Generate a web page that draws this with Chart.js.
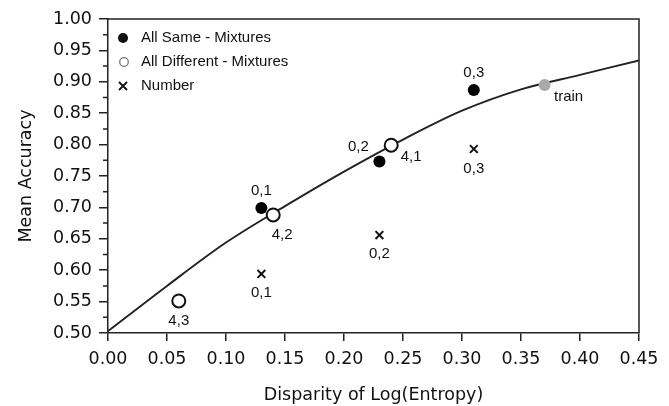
<!DOCTYPE html>
<html lang="en">
<head>
    <meta charset="UTF-8">
    <title>Mean Accuracy vs Disparity of Log(Entropy)</title>
    <script src="https://cdn.jsdelivr.net/npm/chart.js"></script>
    <style>
        html, body { margin: 0; padding: 0; background: #fff; }
        #wrap { width: 669px; height: 406px; position: relative; }
    </style>
</head>
<body>
    <div id="wrap"><canvas id="chart"></canvas></div>

    <script>
        // fitted curve
        const curveX = [0.00, 0.05, 0.10, 0.15, 0.20, 0.25, 0.30, 0.35, 0.40, 0.45];
        const curveY = [0.503, 0.575, 0.644, 0.702, 0.757, 0.808, 0.854, 0.888, 0.911, 0.934];

        // All Same - Mixtures
        const sameX = [0.13, 0.23, 0.31];
        const sameY = [0.699, 0.773, 0.887];
        const sameLabels = ['0,1', '0,2', '0,3'];

        // All Different - Mixtures
        const diffX = [0.06, 0.14, 0.24];
        const diffY = [0.551, 0.688, 0.799];
        const diffLabels = ['4,3', '4,2', '4,1'];

        // Number
        const numX = [0.13, 0.23, 0.31];
        const numY = [0.594, 0.656, 0.793];
        const numLabels = ['0,1', '0,2', '0,3'];

        // training point
        const trainX = [0.37];
        const trainY = [0.895];
        const trainLabels = ['train'];

        const xTicks = [0, 0.05, 0.10, 0.15, 0.20, 0.25, 0.30, 0.35, 0.40, 0.45];
        const yTicks = [0.50, 0.55, 0.60, 0.65, 0.70, 0.75, 0.80, 0.85, 0.90, 0.95, 1.00];

        const pts = (xs, ys) => xs.map((x, i) => ({ x: x, y: ys[i] }));

        const axisFont = { family: 'DejaVu Sans', size: 17.5 };
        const labelFont = '15px "Liberation Sans", Arial, sans-serif';

        // label offsets (px) from each marker, per dataset
        const labelOffsets = {
            same: [[0, -17], [-21, -15], [0, -17]],
            diff: [[0, 20], [9, 20], [20, 12]],
            num: [[0, 19], [0, 19], [0, 20]],
            train: [[24, 12]]
        };

        const decorPlugin = {
            id: 'decor',
            afterDraw(chart) {
                const ctx = chart.ctx;
                const a = chart.chartArea;
                const yScale = chart.scales.y;
                ctx.save();

                // box on top and right
                ctx.strokeStyle = '#222';
                ctx.lineWidth = 1.5;
                ctx.beginPath();
                ctx.moveTo(a.left, a.top);
                ctx.lineTo(a.right, a.top);
                ctx.lineTo(a.right, a.bottom);
                ctx.stroke();

                // minor ticks on y axis
                ctx.beginPath();
                for (let i = 0; i < yTicks.length - 1; i++) {
                    const py = yScale.getPixelForValue((yTicks[i] + yTicks[i + 1]) / 2);
                    ctx.moveTo(a.left - 5, py);
                    ctx.lineTo(a.left, py);
                }
                ctx.stroke();

                // point labels
                ctx.font = labelFont;
                ctx.fillStyle = '#111';
                ctx.textAlign = 'center';
                ctx.textBaseline = 'middle';
                chart.data.datasets.forEach((ds, di) => {
                    if (!ds.pointLabels) return;
                    const meta = chart.getDatasetMeta(di);
                    meta.data.forEach((el, i) => {
                        const off = labelOffsets[ds.key][i];
                        ctx.fillText(ds.pointLabels[i], el.x + off[0], el.y + off[1]);
                    });
                });

                // legend
                const lx = a.left + 15;
                const ly = a.top + 19;
                const gap = 24;
                ctx.textAlign = 'left';
                ctx.fillStyle = '#111';
                ctx.beginPath();
                ctx.arc(lx, ly, 5, 0, Math.PI * 2);
                ctx.fill();
                ctx.strokeStyle = '#777';
                ctx.lineWidth = 1.3;
                ctx.beginPath();
                ctx.arc(lx + 1, ly + gap, 4.3, 0, Math.PI * 2);
                ctx.stroke();
                ctx.strokeStyle = '#111';
                ctx.lineWidth = 1.8;
                ctx.beginPath();
                ctx.moveTo(lx - 4, ly + 2 * gap - 4);
                ctx.lineTo(lx + 4, ly + 2 * gap + 4);
                ctx.moveTo(lx + 4, ly + 2 * gap - 4);
                ctx.lineTo(lx - 4, ly + 2 * gap + 4);
                ctx.stroke();
                ctx.fillText('All Same - Mixtures', lx + 18, ly);
                ctx.fillText('All Different - Mixtures', lx + 18, ly + gap);
                ctx.fillText('Number', lx + 18, ly + 2 * gap);

                ctx.restore();
            }
        };

        new Chart(document.getElementById('chart'), {
            type: 'scatter',
            data: {
                datasets: [
                    {
                        key: 'curve',
                        data: pts(curveX, curveY),
                        showLine: true,
                        borderColor: '#222',
                        borderWidth: 1.9,
                        pointRadius: 0,
                        cubicInterpolationMode: 'monotone',
                        order: 5
                    },
                    {
                        key: 'same',
                        data: pts(sameX, sameY),
                        pointLabels: sameLabels,
                        pointStyle: 'circle',
                        pointRadius: 6,
                        backgroundColor: '#000',
                        borderColor: '#000',
                        borderWidth: 0,
                        order: 2
                    },
                    {
                        key: 'diff',
                        data: pts(diffX, diffY),
                        pointLabels: diffLabels,
                        pointStyle: 'circle',
                        pointRadius: 6.5,
                        backgroundColor: '#fff',
                        borderColor: '#111',
                        borderWidth: 2,
                        order: 1
                    },
                    {
                        key: 'num',
                        data: pts(numX, numY),
                        pointLabels: numLabels,
                        pointStyle: 'crossRot',
                        pointRadius: 5.5,
                        borderColor: '#111',
                        borderWidth: 2,
                        order: 3
                    },
                    {
                        key: 'train',
                        data: pts(trainX, trainY),
                        pointLabels: trainLabels,
                        pointStyle: 'circle',
                        pointRadius: 6,
                        backgroundColor: '#aaa',
                        borderWidth: 0,
                        order: 4
                    }
                ]
            },
            options: {
                responsive: true,
                maintainAspectRatio: false,
                animation: false,
                layout: { padding: { top: 19, right: 30, left: 0, bottom: 0 } },
                plugins: {
                    legend: { display: false },
                    tooltip: { enabled: false }
                },
                scales: {
                    x: {
                        type: 'linear',
                        min: 0,
                        max: 0.45,
                        afterBuildTicks: (axis) => { axis.ticks = xTicks.map(v => ({ value: v })); },
                        afterFit: (axis) => { axis.height = 73; },
                        grid: { drawOnChartArea: false, tickLength: 8, color: '#222', lineWidth: 1.5 },
                        border: { color: '#222', width: 1.5 },
                        ticks: {
                            color: '#111',
                            font: axisFont,
                            padding: 8,
                            maxRotation: 0,
                            callback: (v) => v.toFixed(2)
                        },
                        title: {
                            display: true,
                            text: 'Disparity of Log(Entropy)',
                            color: '#111',
                            font: axisFont,
                            padding: { top: 7, bottom: 0 }
                        }
                    },
                    y: {
                        type: 'linear',
                        min: 0.5,
                        max: 1.0,
                        afterBuildTicks: (axis) => { axis.ticks = yTicks.map(v => ({ value: v })); },
                        afterFit: (axis) => { axis.width = 108; },
                        grid: { drawOnChartArea: false, tickLength: 9, color: '#222', lineWidth: 1.5 },
                        border: { color: '#222', width: 1.5 },
                        ticks: {
                            color: '#111',
                            font: axisFont,
                            padding: 7,
                            callback: (v) => v.toFixed(2)
                        },
                        title: {
                            display: true,
                            text: 'Mean Accuracy',
                            color: '#111',
                            font: axisFont,
                            padding: { top: 16, bottom: 0 }
                        }
                    }
                }
            },
            plugins: [decorPlugin]
        });
    </script>
</body>
</html>
